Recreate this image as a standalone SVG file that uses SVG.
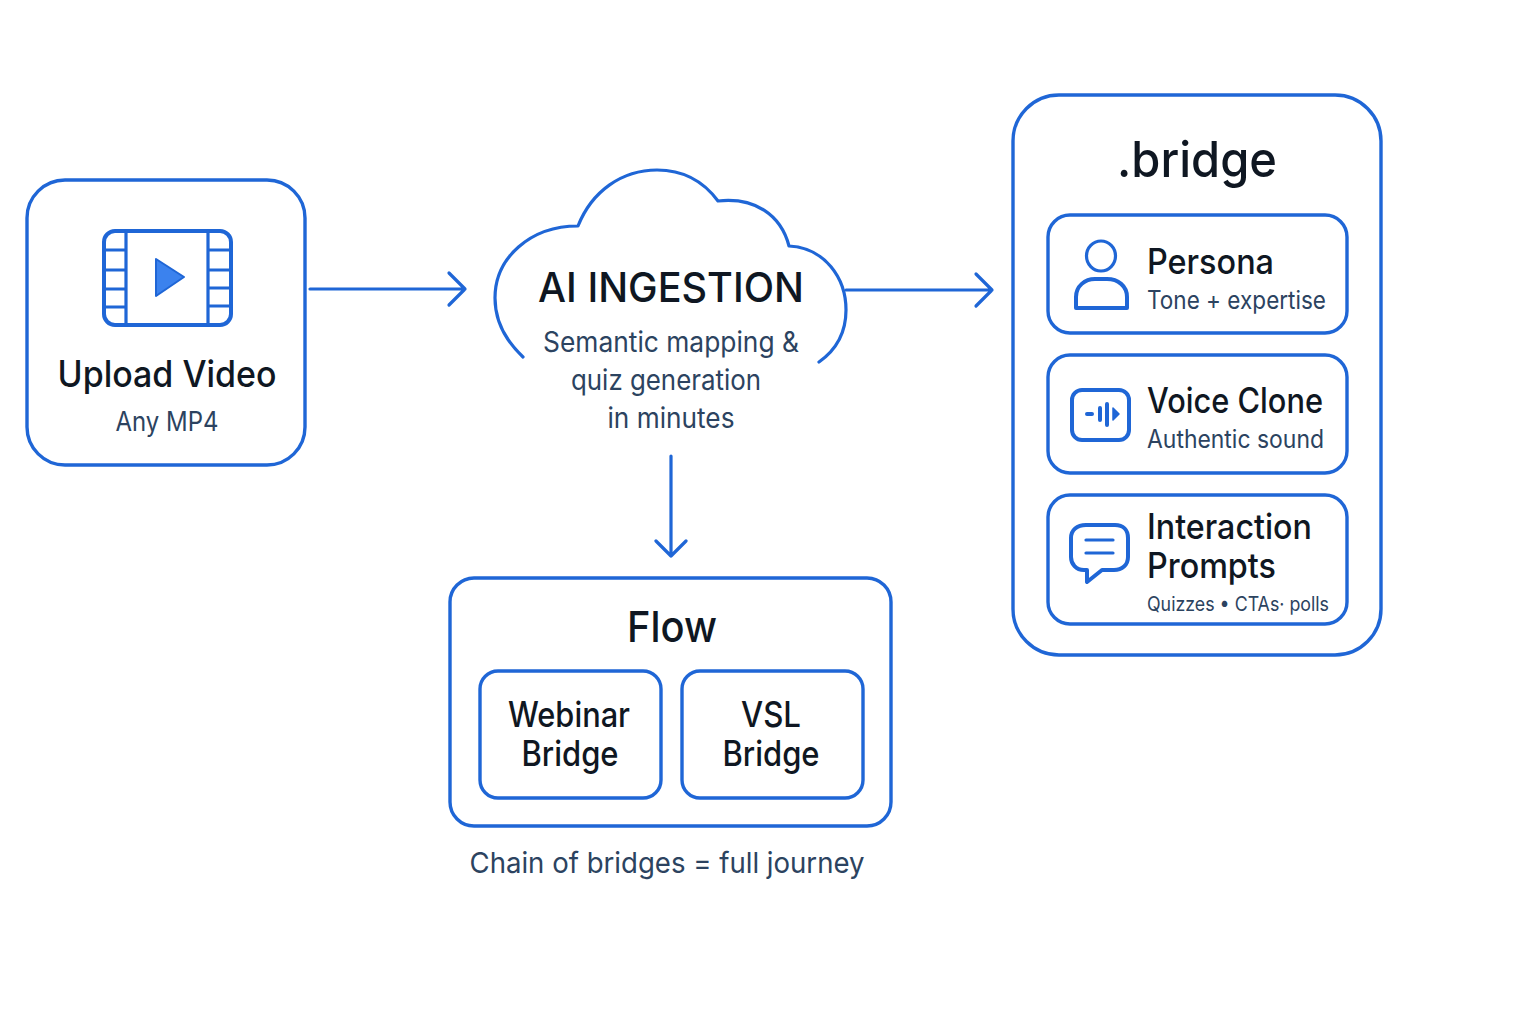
<svg xmlns="http://www.w3.org/2000/svg" width="1536" height="1024" viewBox="0 0 1536 1024">
<style>
.box{fill:#fff;stroke:#1f66d6;stroke-width:3.4}
.ln{fill:none;stroke:#1f66d6;stroke-width:3.2;stroke-linecap:round;stroke-linejoin:round}
.ic{fill:none;stroke:#1f66d6;stroke-width:4;stroke-linecap:round;stroke-linejoin:round}
text{font-family:Inter,"Liberation Sans",sans-serif}
.h{fill:#0f1722;font-weight:500}
.s{fill:#2c4360;font-weight:400}
.m{text-anchor:middle}
</style>
<rect width="1536" height="1024" fill="#fff"/>
<g id="connectors">
<path class="ln" d="M310 289H465M449 273L465 289L449 305"/>
<path class="ln" d="M846 290H992M976 274L992 290L976 306"/>
<path class="ln" d="M671 456V556M656 541L671 556L686 541"/>
</g>
<g id="upload">
<rect class="box" x="27" y="180" width="278" height="285" rx="38"/>
<rect class="ic" x="104" y="231" width="127" height="94" rx="11"/>
<path class="ln" d="M126 231V325M208 231V325M104 250H126M104 270H126M104 289H126M104 307H126M208 250H231M208 270H231M208 288H231M208 306H231"/>
<path d="M156 259L184 277L156 296Z" fill="#3b82ee" stroke="#1f66d6" stroke-width="2" stroke-linejoin="round"/>
<text class="h m" x="167" y="387" font-size="36.500" textLength="219" lengthAdjust="spacingAndGlyphs">Upload Video</text>
<text class="s m" x="167" y="431" font-size="27" textLength="103" lengthAdjust="spacingAndGlyphs">Any MP4</text>
</g>
<g id="ai-ingestion">
<path class="ln" d="M523 357C505 340 495 320 495 298C495 258 530 226 578 226C592 191 622 170 657 170C684 170 704 182 718 201C755 197 781 215 789 246C825 248 846 278 846 310C846 332 836 350 819 362"/>
<text class="h m" x="671" y="302" font-size="41" textLength="266" lengthAdjust="spacingAndGlyphs">AI INGESTION</text>
<text class="s m" x="671" y="352" font-size="28" textLength="256" lengthAdjust="spacingAndGlyphs">Semantic mapping &amp;</text>
<text class="s m" x="666" y="390" font-size="28" textLength="190" lengthAdjust="spacingAndGlyphs">quiz generation</text>
<text class="s m" x="671" y="428" font-size="28" textLength="127" lengthAdjust="spacingAndGlyphs">in minutes</text>
</g>
<g id="flow">
<rect class="box" x="450" y="578" width="441" height="248" rx="24"/>
<text class="h m" x="672" y="642" font-size="43" textLength="90" lengthAdjust="spacingAndGlyphs">Flow</text>
<text class="s m" x="667" y="873" font-size="29" textLength="395" lengthAdjust="spacingAndGlyphs">Chain of bridges = full journey</text>
</g>
<g id="webinar-bridge">
<rect class="box" x="480" y="671" width="181" height="127" rx="18"/>
<text class="h m" x="569" y="727" font-size="35" textLength="122" lengthAdjust="spacingAndGlyphs">Webinar</text>
<text class="h m" x="570" y="766" font-size="35" textLength="97" lengthAdjust="spacingAndGlyphs">Bridge</text>
</g>
<g id="vsl-bridge">
<rect class="box" x="682" y="671" width="181" height="127" rx="18"/>
<text class="h m" x="771" y="727" font-size="35" textLength="60" lengthAdjust="spacingAndGlyphs">VSL</text>
<text class="h m" x="771" y="766" font-size="35" textLength="97" lengthAdjust="spacingAndGlyphs">Bridge</text>
</g>
<g id="bridge">
<rect class="box" x="1013" y="95" width="368" height="560" rx="46"/>
<text class="h m" x="1197" y="177" font-size="50" textLength="160" lengthAdjust="spacingAndGlyphs">.bridge</text>
</g>
<g id="persona">
<rect class="box" x="1048" y="215" width="299" height="118" rx="22"/>
<ellipse class="ln" cx="1101" cy="256" rx="14.500" ry="15"/>
<path class="ic" d="M1076 308V297C1076 286 1085 279 1095 279H1107C1118 279 1127 286 1127 297V308Z"/>
<text class="h" x="1147" y="274" font-size="35" textLength="127" lengthAdjust="spacingAndGlyphs">Persona</text>
<text class="s" x="1147" y="309" font-size="25" textLength="179" lengthAdjust="spacingAndGlyphs">Tone + expertise</text>
</g>
<g id="voice-clone">
<rect class="box" x="1048" y="355" width="299" height="118" rx="22"/>
<rect class="ic" x="1072" y="390" width="57" height="50" rx="10"/>
<path class="ic" d="M1087 414H1092M1100 408V420M1107 404V425"/>
<path d="M1113 408L1119 414L1113 420Z" fill="#1f66d6" stroke="#1f66d6" stroke-width="1.500" stroke-linejoin="round"/>
<text class="h" x="1147" y="413" font-size="35" textLength="176" lengthAdjust="spacingAndGlyphs">Voice Clone</text>
<text class="s" x="1147" y="448" font-size="25" textLength="177" lengthAdjust="spacingAndGlyphs">Authentic sound</text>
</g>
<g id="interaction-prompts">
<rect class="box" x="1048" y="495" width="299" height="129" rx="22"/>
<path class="ic" d="M1086 525H1115C1123 525 1128 530 1128 538V557C1128 565 1122 570 1114 570H1102L1087 582V570H1084C1076 570 1071 564 1071 557V538C1071 530 1077 525 1086 525Z"/>
<path class="ln" d="M1086 540H1113M1086 553H1113"/>
<text class="h" x="1147" y="539" font-size="35" textLength="165" lengthAdjust="spacingAndGlyphs">Interaction</text>
<text class="h" x="1147" y="578" font-size="35" textLength="129" lengthAdjust="spacingAndGlyphs">Prompts</text>
<text class="s" x="1147" y="611" font-size="20" textLength="182" lengthAdjust="spacingAndGlyphs">Quizzes • CTAs· polls</text>
</g>
</svg>
